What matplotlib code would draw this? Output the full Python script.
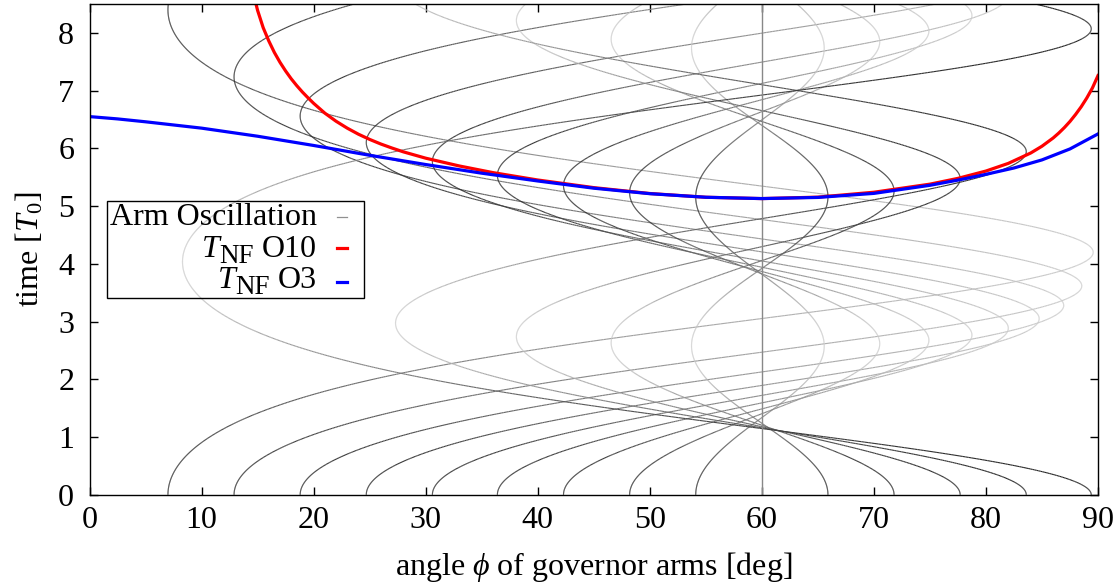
import numpy as np
import matplotlib
matplotlib.use("Agg")
import matplotlib.pyplot as plt
from matplotlib.collections import LineCollection
from matplotlib.patches import Rectangle
from matplotlib.transforms import IdentityTransform

plt.rcParams["font.family"] = ["Liberation Serif", "DejaVu Serif"]
plt.rcParams["mathtext.fontset"] = "custom"
plt.rcParams["mathtext.rm"] = "Liberation Serif"
plt.rcParams["mathtext.it"] = "Liberation Serif:italic"
plt.rcParams["font.size"] = 23

# equilibrium angle of the governor arms and start angles of the oscillations [deg]
phi_eq = 60.0
phi_start = [7.0, 12.9, 18.8, 24.7, 30.6, 36.4, 42.3, 48.2, 54.1,
             65.9, 71.8, 77.7, 83.6, 89.4]

# period of the non-linear oscillation vs. start angle, series to order 10
phi_o10 = [14.5, 15.0, 15.5, 16.0, 16.5, 17.0, 17.5, 18.0, 18.5, 19.0, 19.5,
           20, 21, 22, 23, 24, 25, 26, 27, 28, 30, 33, 36, 40, 45, 50, 55,
           60, 65, 70, 75, 77.5, 80, 82, 84, 85, 86, 86.5, 87, 87.5, 88,
           88.5, 89, 89.5, 90]
T_o10 = [8.78, 8.39, 8.09, 7.86, 7.66, 7.49, 7.34, 7.205, 7.085, 6.975, 6.875,
         6.78, 6.61, 6.47, 6.35, 6.245, 6.155, 6.075, 6.005, 5.94, 5.83, 5.695,
         5.58, 5.452, 5.32, 5.218, 5.153, 5.13, 5.155, 5.24, 5.38, 5.48, 5.607,
         5.74, 5.92, 6.037, 6.18, 6.265, 6.36, 6.466, 6.587, 6.72, 6.872,
         7.045, 7.26]

# same period, series to order 3
phi_o3 = [0, 2.5, 5, 10, 15, 20, 25, 30, 35, 40, 45, 50, 55, 60,
          65, 70, 75, 77.5, 80, 82.5, 85, 87.5, 90]
T_o3 = [6.55, 6.51, 6.46, 6.35, 6.21, 6.05, 5.88, 5.72, 5.57, 5.435, 5.31,
        5.215, 5.153, 5.13, 5.15, 5.22, 5.36, 5.45, 5.55, 5.66, 5.80, 5.99,
        6.25]


def accel(p):
    # phi'' = sin(phi) (2 cos(phi) - 1), time in units of T0 = sqrt(l/g)
    return np.sin(p) * (2.0 * np.cos(p) - 1.0)


dt = 0.002
n = int(8.6 / dt) + 1
t = np.arange(n) * dt
p = np.radians(phi_start)
v = np.zeros_like(p)
P = np.empty((n, p.size))
V = np.empty((n, p.size))
for i in range(n):
    P[i], V[i] = p, v
    k1p, k1v = v, accel(p)
    k2p, k2v = v + 0.5 * dt * k1v, accel(p + 0.5 * dt * k1p)
    k3p, k3v = v + 0.5 * dt * k2v, accel(p + 0.5 * dt * k2p)
    k4p, k4v = v + dt * k3v, accel(p + dt * k3p)
    p = p + dt / 6 * (k1p + 2 * k2p + 2 * k3p + k4p)
    v = v + dt / 6 * (k1v + 2 * k2v + 2 * k3v + k4v)

fig = plt.figure(figsize=(11.2, 5.86), dpi=100)
ax = fig.add_axes([89.5 / 1120, 1 - 494.8 / 586, (1098 - 89.5) / 1120, (494.8 - 4) / 586])

# each arm trace shades from dark (start/full period) to light (half period)
g_dark, g_light = 0.13, 0.8
step = 4
for j in range(len(phi_start)):
    s0 = np.sign(V[5, j])
    half = np.argmax(V[10:, j] * s0 <= 0) + 10
    period = 2 * t[half]
    tt = t[::step]
    pts = np.column_stack([np.degrees(P[::step, j]), tt])
    segs = np.stack([pts[:-1], pts[1:]], axis=1)
    tm = 0.5 * (tt[:-1] + tt[1:])
    g = g_dark + (g_light - g_dark) * 0.5 * (1 - np.cos(2 * np.pi * tm / period))
    lc = LineCollection(segs, colors=np.column_stack([g, g, g]), linewidths=0.8)
    ax.add_collection(lc)

# arm resting at the equilibrium angle
ax.plot([phi_eq, phi_eq], [0, 8.6], color="#888888", lw=1.0)

ax.plot(phi_o10, T_o10, color="red", lw=2.3)
ax.plot(phi_o3, T_o3, color="blue", lw=2.3)

ax.set_xlim(0, 90)
ax.set_ylim(0, 8.5)
ax.set_xticks(range(0, 91, 10))
ax.set_yticks(range(0, 9))
ax.tick_params(direction="in", top=True, right=True, length=6, width=1)
ax.tick_params(axis="x", pad=8)
ax.tick_params(axis="y", pad=11)
for sp in ax.spines.values():
    sp.set_linewidth(1.0)
ax.set_xlabel(r"angle $\phi$ of governor arms [deg]", labelpad=11)
ax.set_ylabel(r"time [$T_0$]", labelpad=9)

# key box in the style of gnuplot: right-aligned text, short sample after it
ax.add_patch(Rectangle((1.56, 3.41), 22.94, 1.68, fill=False, lw=1.0,
                       edgecolor="black", zorder=5))

renderer = fig.canvas.get_renderer()


def key_text(x_right, y_base, parts):
    # parts: (text, size, style, drop in px, gap after in px), right-aligned row
    arts = [ax.text(0, 0, s, fontsize=sz, fontstyle=st, transform=IdentityTransform(),
                    ha="left", va="baseline", zorder=6) for s, sz, st, dy, gap in parts]
    widths = [a.get_window_extent(renderer).width + part[4] for a, part in zip(arts, parts)]
    x = x_right - sum(widths)
    for a, w, part in zip(arts, widths, parts):
        a.set_position((x, y_base - part[3]))
        x += w


H = 586
key_text(317, H - 225, [("Arm Oscillation", 23, "normal", 0, 0)])
key_text(317, H - 257, [("T", 23, "italic", 0, 0), ("NF", 19.5, "normal", 6, 8),
                        ("O10", 23, "normal", 0, 0)])
key_text(317, H - 288, [("T", 23, "italic", 0, 0), ("NF", 19.5, "normal", 6, 8),
                        ("O3", 23, "normal", 0, 0)])

samples = [("#909090", 0.9, 4.81), ("red", 2.3, 4.28), ("blue", 2.3, 3.69)]
for col, lw, yk in samples:
    ax.plot([22.1, 23.0], [yk, yk], color=col, lw=lw, zorder=6)

fig.savefig("out.png", dpi=100)
